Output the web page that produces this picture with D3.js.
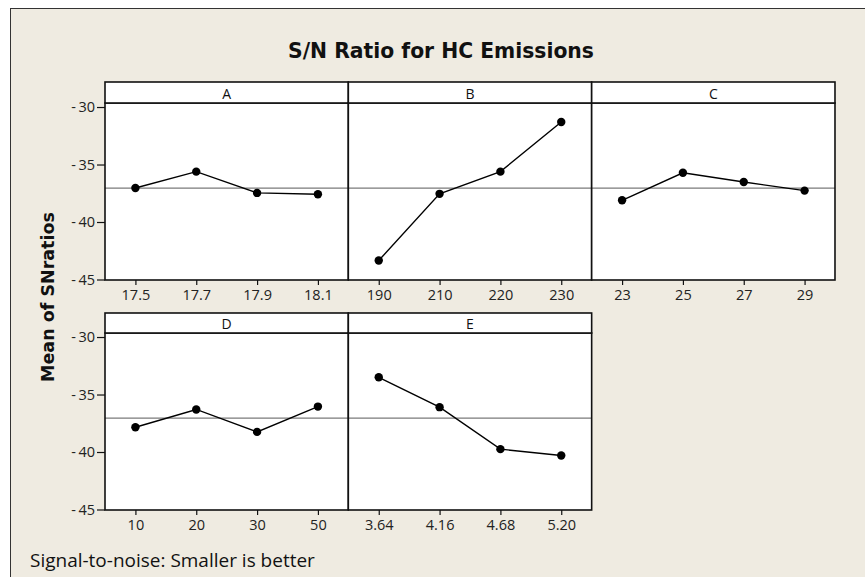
<!DOCTYPE html>
<html>
<head>
<meta charset="utf-8">
<script src="https://cdn.jsdelivr.net/npm/d3@7"></script>
<style>
  body { margin: 0; background: #fff; }
  svg { display: block; }
</style>
</head>
<body>
<svg id="chart" width="865" height="577"></svg>
<script>
// factor names and their levels
const factors = ["A", "B", "C", "D", "E"];
const levelsA = ["17.5", "17.7", "17.9", "18.1"];
const levelsB = ["190", "210", "220", "230"];
const levelsC = ["23", "25", "27", "29"];
const levelsD = ["10", "20", "30", "50"];
const levelsE = ["3.64", "4.16", "4.68", "5.20"];

// mean S/N ratio per level
const snA = [-37.04, -35.62, -37.47, -37.58];
const snB = [-43.35, -37.55, -35.62, -31.30];
const snC = [-38.11, -35.72, -36.52, -37.27];
const snD = [-37.85, -36.30, -38.25, -36.05];
const snE = [-33.50, -36.10, -39.75, -40.30];

const grandMean = -37.05;
const yTicks = [-45, -40, -35, -30];
const yDomain = [-45, -29.65];

const levels = [levelsA, levelsB, levelsC, levelsD, levelsE];
const values = [snA, snB, snC, snD, snE];

var svg = d3.select("#chart");

// frame
svg.append("rect")
  .attr("x", 10.5).attr("y", 8.5)
  .attr("width", 900).attr("height", 600)
  .attr("fill", "#efebe1")
  .attr("stroke", "#333").attr("stroke-width", 1);

function fitWidth(sel, w) {
  var len = sel.node().getComputedTextLength();
  var fs = parseFloat(sel.attr("font-size"));
  sel.attr("font-size", fs * w / len);
}

var title = svg.append("text")
  .attr("x", 441).attr("y", 58)
  .attr("text-anchor", "middle")
  .attr("font-family", "DejaVu Sans")
  .attr("font-weight", "bold")
  .attr("font-size", 20)
  .attr("fill", "#111")
  .text("S/N Ratio for HC Emissions");
fitWidth(title, 306);

var ylab = svg.append("text")
  .attr("transform", "translate(54,297) rotate(-90)")
  .attr("text-anchor", "middle")
  .attr("font-family", "DejaVu Sans")
  .attr("font-weight", "bold")
  .attr("font-size", 17)
  .attr("fill", "#111")
  .text("Mean of SNratios");
fitWidth(ylab, 170);

var foot = svg.append("text")
  .attr("x", 30).attr("y", 567)
  .attr("font-family", "Open Sans")
  .attr("font-size", 15)
  .attr("fill", "#111")
  .text("Signal-to-noise: Smaller is better");
fitWidth(foot, 285);

var panelW = 243.33;
var left0 = 105;
var rows = [
  { stripTop: 82, plotTop: 103, plotBottom: 280 },
  { stripTop: 313, plotTop: 333, plotBottom: 510 }
];

factors.forEach(function(f, i) {
  var row = rows[Math.floor(i / 3)];
  var col = i % 3;
  var x0 = left0 + col * panelW;

  var x = d3.scalePoint()
    .domain(levels[i])
    .range([x0, x0 + panelW])
    .padding(0.5);

  var y = d3.scaleLinear()
    .domain(yDomain)
    .range([row.plotBottom - 0.5, row.plotTop]);

  var g = svg.append("g");

  // plot area
  g.append("rect")
    .attr("x", x0).attr("y", row.plotTop)
    .attr("width", panelW).attr("height", row.plotBottom - row.plotTop)
    .attr("fill", "#fff");

  // grand mean line
  g.append("line")
    .attr("x1", x0).attr("x2", x0 + panelW)
    .attr("y1", y(grandMean)).attr("y2", y(grandMean))
    .attr("stroke", "#7a7a7a").attr("stroke-width", 1.2);

  var line = d3.line()
    .x(function(d, j) { return x(levels[i][j]); })
    .y(function(d) { return y(d); });

  g.append("path")
    .datum(values[i])
    .attr("d", line)
    .attr("fill", "none")
    .attr("stroke", "#000")
    .attr("stroke-width", 1.4);

  g.selectAll("circle")
    .data(values[i])
    .enter().append("circle")
      .attr("cx", function(d, j) { return x(levels[i][j]); })
      .attr("cy", function(d) { return y(d); })
      .attr("r", 4.2)
      .attr("fill", "#000");

  // panel border
  g.append("rect")
    .attr("x", x0).attr("y", row.plotTop)
    .attr("width", panelW).attr("height", row.plotBottom - row.plotTop)
    .attr("fill", "none")
    .attr("stroke", "#111").attr("stroke-width", 1.6);

  // strip
  g.append("rect")
    .attr("x", x0).attr("y", row.stripTop)
    .attr("width", panelW).attr("height", row.plotTop - row.stripTop)
    .attr("fill", "#fff")
    .attr("stroke", "#111").attr("stroke-width", 1.6);

  g.append("text")
    .attr("x", x0 + panelW / 2)
    .attr("y", row.plotTop - 4.5)
    .attr("text-anchor", "middle")
    .attr("font-family", "Open Sans")
    .attr("font-size", 14)
    .attr("fill", "#111")
    .text(f);

  // x axis
  var xAxis = g.append("g")
    .attr("transform", "translate(0," + row.plotBottom + ")")
    .call(d3.axisBottom(x).tickSize(5).tickPadding(5));
  xAxis.select(".domain").remove();
  xAxis.selectAll("line").attr("stroke", "#111").attr("stroke-width", 1.2);
  xAxis.selectAll("text")
    .attr("font-family", "Open Sans")
    .attr("font-size", 14.5)
    .attr("fill", "#222");

  // y axis only on first column
  if (col === 0) {
    var yAxis = g.append("g")
      .attr("transform", "translate(" + x0 + ",0)")
      .call(d3.axisLeft(y).tickValues(yTicks).tickSize(8).tickPadding(2)
        .tickFormat(function(d) { return "-\u2009" + Math.abs(d); }));
    yAxis.select(".domain").remove();
    yAxis.selectAll("line").attr("stroke", "#111").attr("stroke-width", 1.2);
    yAxis.selectAll("text")
      .attr("font-family", "Open Sans")
      .attr("font-size", 14.5)
      .attr("fill", "#222");
  }
});
</script>
</body>
</html>
